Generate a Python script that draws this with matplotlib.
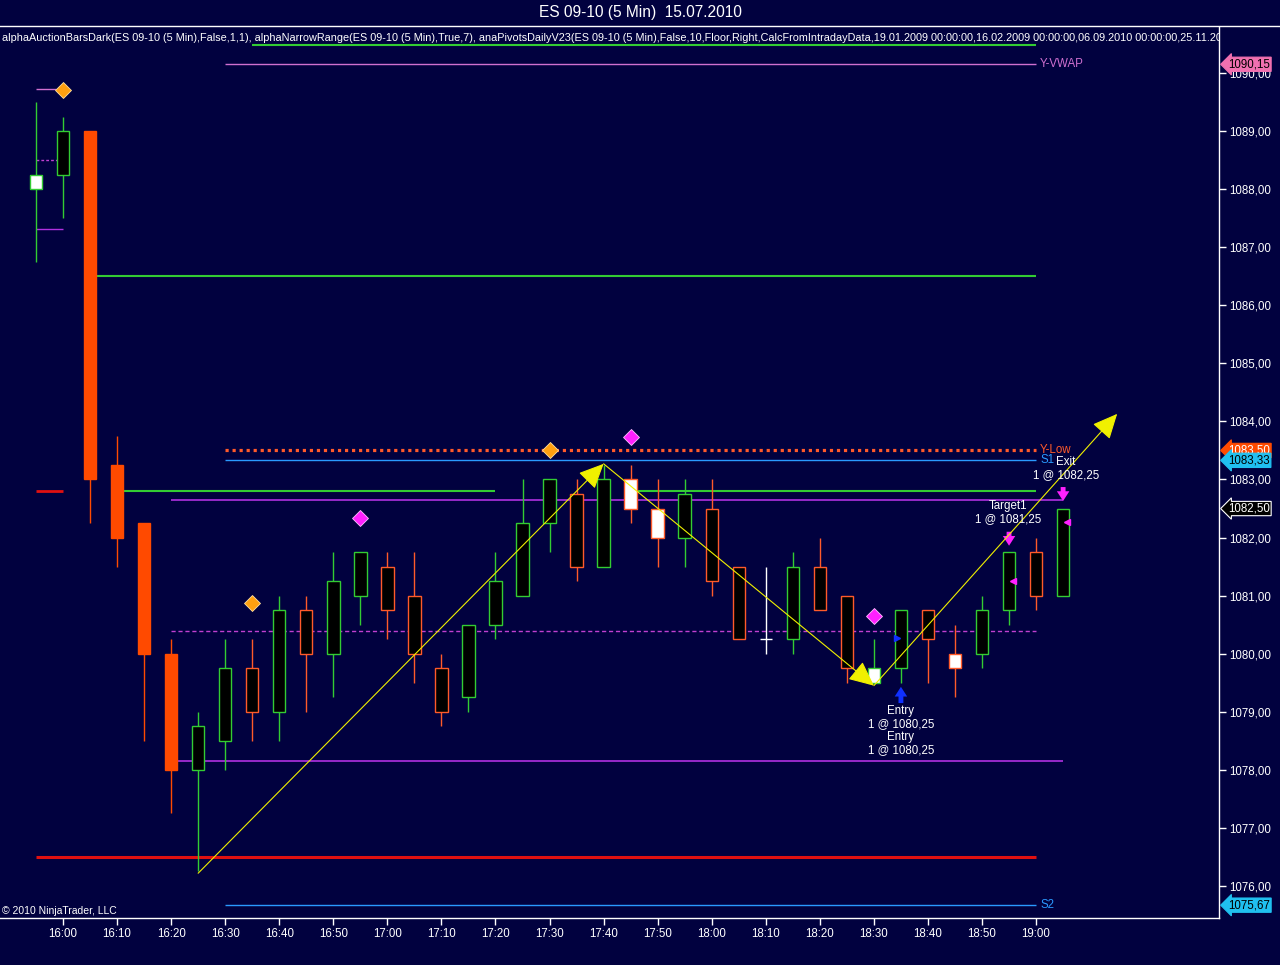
import matplotlib
matplotlib.use("Agg")
import matplotlib.pyplot as plt
import matplotlib.transforms as mtransforms
from matplotlib.lines import Line2D
from matplotlib.ticker import FuncFormatter, FixedLocator, MultipleLocator

plt.rcParams["font.family"] = ["Liberation Sans", "DejaVu Sans"]

BG = "#01013f"
GREEN = "#33cc33"
ORANGE_LINE = "#ff5a2a"
ORANGE_SOLID = "#ff4a00"
VIOLET = "#b030e0"
ORCHID = "#d070d0"
BLUE = "#2a9aff"
WHITE = "#ffffff"

# --- bars (index 0 = 16:00, 5 minute bars) ---
bar_index = list(range(-1, 38))
opens = [1088.00, 1088.25, 1089.00, 1083.25, 1082.25, 1080.00, 1078.00, 1078.50, 1079.75, 1079.00,
         1080.75, 1080.00, 1081.00, 1081.50, 1081.00, 1079.75, 1079.25, 1080.50, 1081.00, 1082.25,
         1082.75, 1081.50, 1083.00, 1082.50, 1082.00, 1082.50, 1081.50, 1080.25, 1080.25, 1081.50,
         1081.00, 1079.50, 1079.75, 1080.75, 1080.00, 1080.00, 1080.75, 1081.75, 1081.00]
highs = [1089.50, 1089.25, 1089.00, 1083.75, 1082.25, 1080.25, 1079.00, 1080.25, 1080.25, 1081.00,
         1081.00, 1081.75, 1081.75, 1081.75, 1081.75, 1080.00, 1080.50, 1081.75, 1083.00, 1083.00,
         1083.00, 1083.25, 1083.25, 1083.00, 1083.00, 1083.00, 1081.50, 1081.50, 1081.75, 1082.00,
         1081.00, 1080.25, 1080.75, 1080.75, 1080.50, 1081.00, 1081.75, 1082.00, 1082.50]
lows = [1086.75, 1087.50, 1082.25, 1081.50, 1078.50, 1077.25, 1076.25, 1078.00, 1078.50, 1078.50,
        1079.00, 1079.25, 1080.50, 1080.25, 1079.50, 1078.75, 1079.00, 1080.25, 1081.00, 1081.75,
        1081.25, 1081.50, 1082.25, 1081.50, 1081.50, 1081.00, 1080.25, 1080.00, 1080.00, 1080.75,
        1079.50, 1079.50, 1079.50, 1079.50, 1079.25, 1079.75, 1080.50, 1080.75, 1081.00]
closes = [1088.25, 1089.00, 1083.00, 1082.00, 1080.00, 1078.00, 1078.75, 1079.75, 1079.00, 1080.75,
          1080.00, 1081.25, 1081.75, 1080.75, 1080.00, 1079.00, 1080.50, 1081.25, 1082.25, 1083.00,
          1081.50, 1083.00, 1082.50, 1082.00, 1082.75, 1081.25, 1080.25, 1080.25, 1081.50, 1080.75,
          1079.75, 1079.75, 1080.75, 1080.25, 1079.75, 1080.75, 1081.75, 1081.00, 1082.50]
bar_kind = ["up_white", "up", "solid", "solid", "solid", "solid", "up", "up", "down", "up",
            "down", "up", "up", "down", "down", "down", "up", "up", "up", "up",
            "down", "up", "down_white", "down_white", "up", "down", "down", "doji", "up", "down",
            "down", "up_white", "up", "down", "down_white", "up", "up", "down", "up"]

tick_bars = list(range(0, 37, 2))
tick_labels = ["16:00", "16:10", "16:20", "16:30", "16:40", "16:50", "17:00", "17:10", "17:20",
               "17:30", "17:40", "17:50", "18:00", "18:10", "18:20", "18:30", "18:40", "18:50", "19:00"]

# --- indicator levels ---
narrow_range = 1090.48
y_vwap = 1090.15
green_high = 1086.50
y_low = 1083.50
s1 = 1083.33
green_mid = 1082.80
violet_high = 1082.65
violet_mid = 1080.39
violet_low = 1078.15
red_low = 1076.50
s2 = 1075.67
prev_marks = [1089.72, 1088.50, 1087.31]
prev_red = 1082.80
last_close = 1082.50

orange_diamond_bars = [0, 7, 18]
orange_diamond_prices = [1089.70, 1080.87, 1083.50]
magenta_diamond_bars = [11, 21, 30]
magenta_diamond_prices = [1082.34, 1083.73, 1080.65]

swing_bars = [5, 20, 30, 39]
swing_prices = [1076.22, 1083.27, 1079.45, 1084.13]

fig = plt.figure(figsize=(12.8, 9.65), dpi=100, facecolor=BG)
ax = fig.add_axes([0, 47 / 965, 1219 / 1280, 891 / 965], facecolor=BG)
ax.set_xlim(-63 / 27.03, (1219 - 63) / 27.03)
ax.set_ylim(1075.449, 1090.792)
data_tf = mtransforms.blended_transform_factory(ax.transAxes, ax.transData)

# level lines
ax.hlines(narrow_range, 7, 36, color=GREEN, lw=1.5)
ax.hlines(y_vwap, 6, 36, color=ORCHID, lw=1)
ax.hlines(green_high, 1, 36, color=GREEN, lw=1.5)
ax.hlines(y_low, 6, 36, color=ORANGE_LINE, lw=2.3, linestyles=(0, (1, 1.2)))
ax.hlines(s1, 6, 36, color=BLUE, lw=1)
ax.hlines(green_mid, 2, 16, color=GREEN, lw=1.5)
ax.hlines(green_mid, 21, 36, color=GREEN, lw=1.5)
ax.hlines(violet_high, 4, 37, color=VIOLET, lw=1.2)
ax.hlines(violet_mid, 4, 36, color="#c040d0", lw=1, linestyles=(0, (3, 2)))
ax.hlines(violet_low, 4, 37, color=VIOLET, lw=1.2)
ax.hlines(red_low, -1, 36, color="#e01010", lw=2.2)
ax.hlines(s2, 6, 36, color=BLUE, lw=1)
ax.hlines(prev_marks[0], -1, -0.25, color=ORCHID, lw=1)
ax.hlines(prev_marks[1], -1, 0, color="#c040d0", lw=1, linestyles=(0, (2, 1.5)))
ax.hlines(prev_marks[2], -1, 0, color=VIOLET, lw=1)
ax.hlines(prev_red, -1, 0, color="#e01010", lw=2)

level_text = [("Y-VWAP", y_vwap, ORCHID), ("Y-Low", y_low, ORANGE_LINE),
              ("S1", s1, BLUE), ("S2", s2, BLUE)]
for label, price, col in level_text:
    ax.text(36.15, price, label, color=col, fontsize=8.3, va="center", ha="left")

# candles
w = 0.46
for i, o, h, l, c, kind in zip(bar_index, opens, highs, lows, closes, bar_kind):
    if kind == "doji":
        ax.vlines(i, l, h, color=WHITE, lw=1, zorder=2)
        ax.hlines(c, i - w / 2, i + w / 2, color=WHITE, lw=1, zorder=3)
        continue
    up = kind.startswith("up")
    edge = GREEN if up else (ORANGE_SOLID if kind == "solid" else ORANGE_LINE)
    if kind == "solid":
        face = ORANGE_SOLID
    elif kind.endswith("white"):
        face = WHITE
    else:
        face = "#000000"
    ax.vlines(i, l, h, color=edge, lw=1, zorder=2)
    ax.bar(i, abs(c - o), bottom=min(o, c), width=w, color=face, edgecolor=edge, lw=1, zorder=3)

# diamonds
ax.plot(orange_diamond_bars, orange_diamond_prices, "D", ms=8, color="#ffa010",
        mec="#ffe0a0", mew=0.6, ls="none", zorder=4)
ax.plot(magenta_diamond_bars, magenta_diamond_prices, "D", ms=8, color="#ff20ff",
        mec="#ffc0ff", mew=0.6, ls="none", zorder=4)

# swing arrows
for k in range(len(swing_bars) - 1):
    ax.annotate("", xy=(swing_bars[k + 1], swing_prices[k + 1]),
                xytext=(swing_bars[k], swing_prices[k]),
                arrowprops=dict(arrowstyle="-|>,head_length=1.3,head_width=0.6",
                                color="#f0f000", lw=0.8, shrinkA=0, shrinkB=0,
                                mutation_scale=12), zorder=5)

# execution markers
ax.annotate("", xy=(31, 1079.43), xytext=(31, 1079.15),
            arrowprops=dict(arrowstyle="simple,head_width=0.9,head_length=0.7,tail_width=0.35",
                            color="#1030ff", lw=0, shrinkA=0, shrinkB=0, mutation_scale=10))
for b, top, bottom in [(35, 1082.10, 1081.86), (37, 1082.87, 1082.63)]:
    ax.annotate("", xy=(b, bottom), xytext=(b, top),
                arrowprops=dict(arrowstyle="simple,head_width=0.9,head_length=0.7,tail_width=0.35",
                                color="#ff20ff", lw=0, shrinkA=0, shrinkB=0, mutation_scale=10))
ax.plot([35.15, 37.15], [1081.25, 1082.27], "<", ms=4.5, color="#ff20ff", ls="none", zorder=4)
ax.plot([30.85], [1080.27], ">", ms=4.5, color="#1030ff", ls="none", zorder=4)

ax.text(31, 1079.12, "Entry\n1 @ 1080,25\nEntry\n1 @ 1080,25", color=WHITE, fontsize=8.3,
        ha="center", va="top", linespacing=1.12, zorder=6)
ax.text(34.95, 1082.64, "Target1\n1 @ 1081,25", color=WHITE, fontsize=8.3,
        ha="center", va="top", linespacing=1.12, zorder=6)
ax.text(37.1, 1083.40, "Exit\n1 @ 1082,25", color=WHITE, fontsize=8.3,
        ha="center", va="top", linespacing=1.12, zorder=6)

# indicator caption
ax.text(0.0015, 1090.60,
        "alphaAuctionBarsDark(ES 09-10 (5 Min),False,1,1), alphaNarrowRange(ES 09-10 (5 Min),True,7), "
        "anaPivotsDailyV23(ES 09-10 (5 Min),False,10,Floor,Right,CalcFromIntradayData,19.01.2009 00:00:00,"
        "16.02.2009 00:00:00,06.09.2010 00:00:00,25.11.2009 00:00:00)",
        transform=data_tf, color=WHITE, fontsize=7.8, va="center", ha="left", clip_on=True)
ax.text(0.002, 1075.49, "\u00a9 2010 NinjaTrader, LLC", color=WHITE, fontsize=7.5,
        transform=data_tf, va="bottom", ha="left")

# axes styling
for side in ["top", "left"]:
    ax.spines[side].set_visible(False)
for side in ["right", "bottom"]:
    ax.spines[side].set_color(WHITE)
    ax.spines[side].set_linewidth(1)
ax.yaxis.tick_right()
ax.yaxis.set_major_locator(MultipleLocator(1))
ax.yaxis.set_major_formatter(FuncFormatter(lambda v, _: f"{v:.2f}".replace(".", ",")))
ax.xaxis.set_major_locator(FixedLocator(tick_bars))
ax.set_xticklabels(tick_labels)
ax.tick_params(colors=WHITE, labelsize=8.3, length=5, width=1, pad=2)

# price tags on the axis
tags = [(y_vwap, "#f070b0", "#000000"), (y_low, "#ff4a00", WHITE), (s1, "#20c0f0", "#000000"),
        (last_close, "#000000", WHITE), (s2, "#20c0f0", "#000000")]
for price, face, txt in tags:
    ax.text(1.0075, price, f"{price:.2f}".replace(".", ","), transform=data_tf, fontsize=8.3,
            color=txt, va="center", ha="left", clip_on=False, zorder=7,
            bbox=dict(boxstyle="larrow,pad=0.1", fc=face, ec=WHITE if face == "#000000" else face, lw=0.8))

fig.add_artist(Line2D([0, 1], [1 - 26 / 965, 1 - 26 / 965], color=WHITE, lw=1,
                      transform=fig.transFigure))
fig.text(0.5, 1 - 13 / 965, "ES 09-10 (5 Min)  15.07.2010", color=WHITE, fontsize=11.2,
         ha="center", va="center")

fig.savefig("out.png", dpi=100, facecolor=BG)
